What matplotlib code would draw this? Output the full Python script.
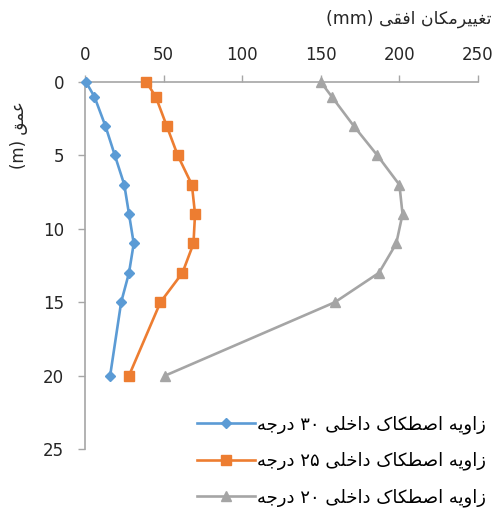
import matplotlib
matplotlib.use("Agg")
import matplotlib.pyplot as plt

# depth (m) and horizontal displacement (mm)
depth = [0, 1, 3, 5, 7, 9, 11, 13, 15, 20]
disp_30 = [0.6, 6, 13, 19, 25, 28, 31, 28, 23, 16]
disp_25 = [39, 45, 52, 59, 68, 70, 69, 62, 48, 28]
disp_20 = [150, 157, 171, 186, 200, 202, 198, 187, 159, 51]

labels = ["زاویه اصطکاک داخلی ۳۰ درجه",
          "زاویه اصطکاک داخلی ۲۵ درجه",
          "زاویه اصطکاک داخلی ۲۰ درجه"]
xlabel = "تغییرمکان افقی (mm)"
ylabel = "عمق (m)"

x_ticks = [0, 50, 100, 150, 200, 250]
y_ticks = [0, 5, 10, 15, 20, 25]

# matplotlib has no arabic shaping, so pick the contextual forms by hand
# letter: (isolated, final, initial, medial); None = does not join to the left
FORMS = {
    "ا": ("\ufe8d", "\ufe8e", None, None),
    "ت": ("\ufe95", "\ufe96", "\ufe97", "\ufe98"),
    "ج": ("\ufe9d", "\ufe9e", "\ufe9f", "\ufea0"),
    "خ": ("\ufea5", "\ufea6", "\ufea7", "\ufea8"),
    "د": ("\ufea9", "\ufeaa", None, None),
    "ر": ("\ufead", "\ufeae", None, None),
    "ز": ("\ufeaf", "\ufeb0", None, None),
    "ص": ("\ufeb9", "\ufeba", "\ufebb", "\ufebc"),
    "ط": ("\ufec1", "\ufec2", "\ufec3", "\ufec4"),
    "ع": ("\ufec9", "\ufeca", "\ufecb", "\ufecc"),
    "غ": ("\ufecd", "\ufece", "\ufecf", "\ufed0"),
    "ف": ("\ufed1", "\ufed2", "\ufed3", "\ufed4"),
    "ق": ("\ufed5", "\ufed6", "\ufed7", "\ufed8"),
    "ل": ("\ufedd", "\ufede", "\ufedf", "\ufee0"),
    "م": ("\ufee1", "\ufee2", "\ufee3", "\ufee4"),
    "ن": ("\ufee5", "\ufee6", "\ufee7", "\ufee8"),
    "ه": ("\ufee9", "\ufeea", "\ufeeb", "\ufeec"),
    "و": ("\ufeed", "\ufeee", None, None),
    "ک": ("\ufb8e", "\ufb8f", "\ufb90", "\ufb91"),
    "ی": ("\ufbfc", "\ufbfd", "\ufbfe", "\ufbff"),
}


def shape_word(w):
    out = []
    for i, c in enumerate(w):
        if c not in FORMS:
            out.append(c)
            continue
        prev = w[i - 1] if i > 0 else None
        nxt = w[i + 1] if i + 1 < len(w) else None
        join_prev = prev in FORMS and FORMS[prev][2] is not None
        join_next = nxt in FORMS and FORMS[c][2] is not None
        iso, fin, ini, med = FORMS[c]
        if join_prev and join_next:
            out.append(med)
        elif join_prev:
            out.append(fin)
        elif join_next:
            out.append(ini)
        else:
            out.append(iso)
    s = "".join(out)
    if any(ch in FORMS for ch in w):
        s = s[::-1]
    return s


def rtl(text):
    return " ".join(shape_word(w) for w in text.split(" ")[::-1])


blue = "#5B9BD5"
orange = "#ED7D31"
gray = "#A5A5A5"
axis_col = "#A6A6A6"

plt.rcParams["font.family"] = ["DejaVu Sans"]

fig = plt.figure(figsize=(5.02, 5.16), dpi=100)
ax = fig.add_axes([85 / 502, 1 - 449 / 516, 393 / 502, 367 / 516])

ax.plot(disp_30, depth, color=blue, lw=1.9, marker="D", ms=5.5,
        label=rtl(labels[0]), clip_on=False, zorder=3)
ax.plot(disp_25, depth, color=orange, lw=1.9, marker="s", ms=6.5,
        label=rtl(labels[1]), clip_on=False, zorder=3)
ax.plot(disp_20, depth, color=gray, lw=1.9, marker="^", ms=7,
        label=rtl(labels[2]), clip_on=False, zorder=3)

ax.set_xlim(0, 250)
ax.set_ylim(25, 0)
ax.set_xticks(x_ticks)
ax.set_yticks(y_ticks)
ax.xaxis.tick_top()
ax.tick_params(axis="both", colors=axis_col, labelcolor="#262626",
               labelsize=12, length=5, width=1)
ax.tick_params(axis="x", pad=8)
ax.tick_params(axis="y", pad=10)

for side in ["right", "bottom"]:
    ax.spines[side].set_visible(False)
ax.spines["top"].set_color(axis_col)
ax.spines["left"].set_color(axis_col)
ax.spines["top"].set_linewidth(1.2)
ax.spines["left"].set_linewidth(1.2)

fig.text(492 / 502, 1 - 19 / 516, rtl(xlabel), ha="right", va="center",
         fontsize=12.5, color="#262626")
fig.text(19 / 502, 1 - 135 / 516, rtl(ylabel), ha="center", va="center",
         rotation=90, fontsize=12, color="#262626")

fig.legend(loc="upper left", bbox_to_anchor=(190 / 502, 1 - 408 / 516),
           frameon=False, fontsize=13, handlelength=3.2, labelspacing=1.0,
           handletextpad=0.1, borderaxespad=0)

fig.savefig("out.png", dpi=100)
